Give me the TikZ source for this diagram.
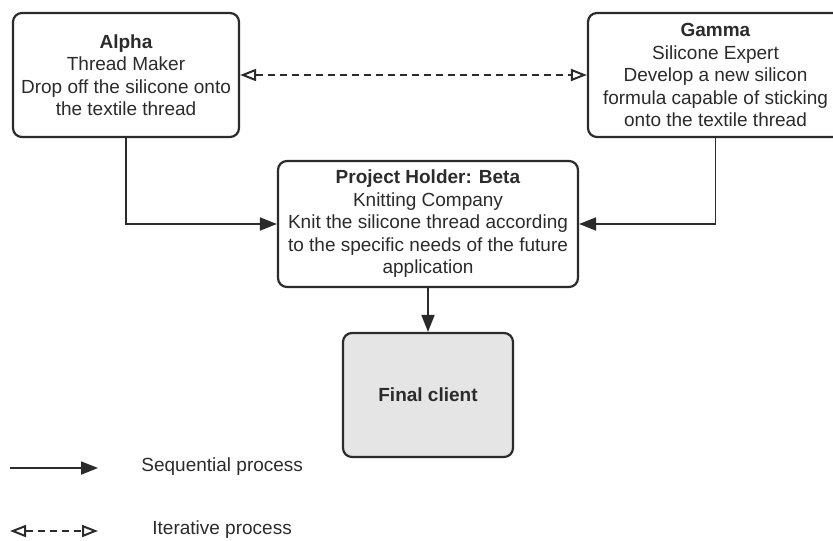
\documentclass[tikz,border=0pt]{standalone}
\usepackage{fontspec}
\setmainfont{Liberation Sans}
\usepackage{tikz}
\usetikzlibrary{arrows.meta}
\definecolor{linegrey}{HTML}{2B2B2B}
\definecolor{clientgrey}{HTML}{E5E5E5}

\begin{document}
\begin{tikzpicture}[x=0.5pt,y=-0.5pt,
	box/.style={draw=linegrey, line width=1.1pt, rounded corners=4.5pt, fill=white, align=center, text=linegrey, inner sep=0pt, font=\fontsize{9.5}{11.25}\selectfont},
	seq/.style={draw=linegrey, line width=0.9pt, -{Triangle[length=8.5pt,width=6.5pt]}},
	iter/.style={draw=linegrey, line width=0.9pt, dash pattern=on 3.5pt off 2.5pt, {Triangle[open,length=8pt,width=6pt,line width=1pt]}-{Triangle[open,length=8pt,width=6pt,line width=1pt]}},
	legendtext/.style={anchor=west, inner sep=0pt, text=linegrey, font=\fontsize{9.5}{11.25}\selectfont}]
			\useasboundingbox (0,0) rectangle (833,540);
			\node[box, minimum width=113pt, minimum height=62pt] (alpha) at (126,75) {\textbf{Alpha}\\Thread Maker\\Drop off the silicone onto\\the textile thread};
			\node[box, minimum width=127.5pt, minimum height=62pt] (gamma) at (715.5,75) {\textbf{Gamma}\\Silicone Expert\\Develop a new silicon\\formula capable of sticking\\onto the textile thread};
			\node[box, minimum width=150pt, minimum height=63pt] (beta) at (428,224) {\textbf{Project Holder: Beta}\\Knitting Company\\Knit the silicone thread according\\to the specific needs of the future\\application};
			\node[box, fill=clientgrey, minimum width=85pt, minimum height=62pt] (client) at (428,395) {\textbf{Final client}};
			\draw[iter] (alpha.east) -- (gamma.west);
			\draw[seq] (alpha.south) |- (beta.west);
			\draw[seq] (gamma.south) |- (beta.east);
			\draw[seq] (beta.south) -- (client.north);
			\coordinate (seqa) at (10,468);
			\coordinate (seqb) at (98,468);
			\coordinate (itera) at (10,531);
			\coordinate (iterb) at (98,531);
			\draw[seq] (seqa) -- (seqb);
			\draw[iter] (itera) -- (iterb);
			\node[legendtext] (seqlabel) at (141,467) {Sequential process};
			\node[legendtext] (iterlabel) at (152,530) {Iterative process};
		\end{tikzpicture}
\end{document}
